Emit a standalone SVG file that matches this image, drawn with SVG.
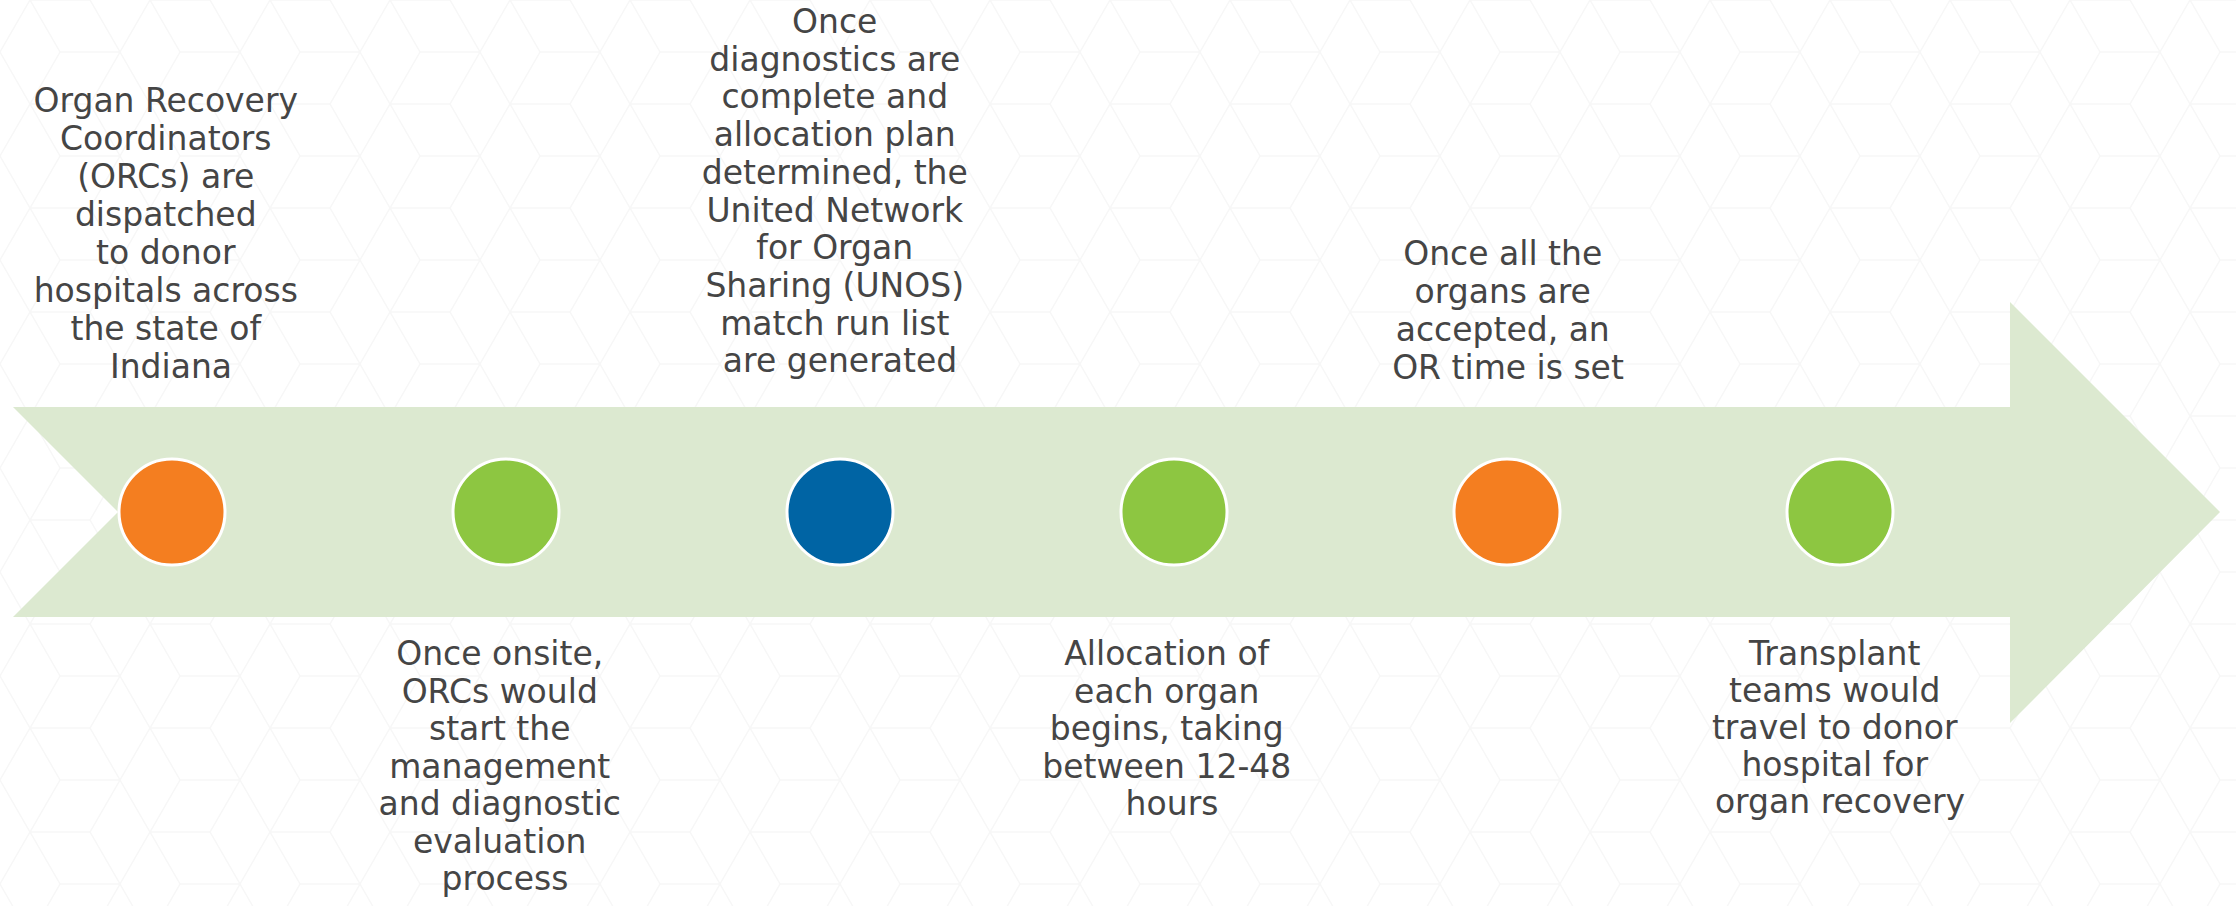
<svg xmlns="http://www.w3.org/2000/svg" width="2236" height="906" viewBox="0 0 2236 906">
  <defs>
    <pattern id="hex" width="120" height="104" patternUnits="userSpaceOnUse">
      <path d="M0 52 L30 0 L90 0 L120 52 L90 104 L30 104 Z M30 0 L60 52 L30 104 M60 52 L120 52" fill="none" stroke="#f7f7f7" stroke-width="1.5"/>
    </pattern>
  </defs>
  <style>
    .lbl { font-family: "DejaVu Sans", "Liberation Sans", sans-serif; font-size: 33px; fill: #454545; text-anchor: middle; }
    .dot { stroke: #ffffff; stroke-width: 3; }
    .orange { fill: #F47E20; }
    .green { fill: #8DC641; }
    .blue { fill: #0064A4; }
  </style>
  <rect x="0" y="0" width="2236" height="906" fill="#ffffff"/>
  <rect x="0" y="0" width="2236" height="906" fill="url(#hex)"/>

  <g id="connectors">
    <polygon id="timeline-arrow" points="13,407 2010,407 2010,302 2220,512 2010,723 2010,617 13,617 118,512" fill="#DCE9D0"/>
  </g>

  <g id="step1">
    <circle class="dot orange" cx="172" cy="512" r="53"/>
    <text class="lbl">
      <tspan x="171" y="112">Organ Recovery</tspan>
      <tspan x="171" y="150">Coordinators</tspan>
      <tspan x="171" y="188">(ORCs) are</tspan>
      <tspan x="171" y="226">dispatched</tspan>
      <tspan x="171" y="264">to donor</tspan>
      <tspan x="171" y="302">hospitals across</tspan>
      <tspan x="171" y="340">the state of</tspan>
      <tspan x="171" y="378">Indiana</tspan>
    </text>
  </g>

  <g id="step2">
    <circle class="dot green" cx="506" cy="512" r="53"/>
    <text class="lbl">
      <tspan x="505" y="665">Once onsite,</tspan>
      <tspan x="505" y="702.5">ORCs would</tspan>
      <tspan x="505" y="740">start the</tspan>
      <tspan x="505" y="777.5">management</tspan>
      <tspan x="505" y="815">and diagnostic</tspan>
      <tspan x="505" y="852.5">evaluation</tspan>
      <tspan x="505" y="890">process</tspan>
    </text>
  </g>

  <g id="step3">
    <circle class="dot blue" cx="840" cy="512" r="53"/>
    <text class="lbl">
      <tspan x="840" y="33">Once</tspan>
      <tspan x="840" y="70.7">diagnostics are</tspan>
      <tspan x="840" y="108.4">complete and</tspan>
      <tspan x="840" y="146.1">allocation plan</tspan>
      <tspan x="840" y="183.8">determined, the</tspan>
      <tspan x="840" y="221.5">United Network</tspan>
      <tspan x="840" y="259.2">for Organ</tspan>
      <tspan x="840" y="296.9">Sharing (UNOS)</tspan>
      <tspan x="840" y="334.6">match run list</tspan>
      <tspan x="840" y="372.3">are generated</tspan>
    </text>
  </g>

  <g id="step4">
    <circle class="dot green" cx="1174" cy="512" r="53"/>
    <text class="lbl">
      <tspan x="1172" y="665">Allocation of</tspan>
      <tspan x="1172" y="702.5">each organ</tspan>
      <tspan x="1172" y="740">begins, taking</tspan>
      <tspan x="1172" y="777.5">between 12-48</tspan>
      <tspan x="1172" y="815">hours</tspan>
    </text>
  </g>

  <g id="step5">
    <circle class="dot orange" cx="1507" cy="512" r="53"/>
    <text class="lbl">
      <tspan x="1508" y="265">Once all the</tspan>
      <tspan x="1508" y="303">organs are</tspan>
      <tspan x="1508" y="341">accepted, an</tspan>
      <tspan x="1508" y="379">OR time is set</tspan>
    </text>
  </g>

  <g id="step6">
    <circle class="dot green" cx="1840" cy="512" r="53"/>
    <text class="lbl">
      <tspan x="1840" y="665">Transplant</tspan>
      <tspan x="1840" y="702">teams would</tspan>
      <tspan x="1840" y="739">travel to donor</tspan>
      <tspan x="1840" y="776">hospital for</tspan>
      <tspan x="1840" y="813">organ recovery</tspan>
    </text>
  </g>
</svg>
